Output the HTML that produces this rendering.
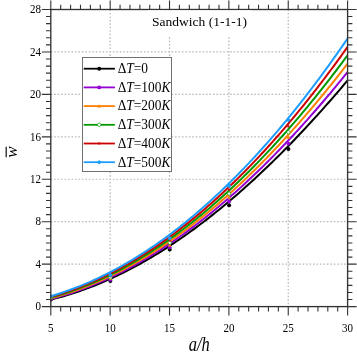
<!DOCTYPE html><html><head><meta charset="utf-8"><style>html,body{margin:0;padding:0;background:#fff}svg{display:block;will-change:transform}.ls,.ls text{font-family:"Liberation Serif",serif}</style></head><body><svg width="357" height="353" viewBox="0 0 357 353">
<rect width="357" height="353" fill="#fff"/>
<path d="M110.16 9.5V306.6M169.52 9.5V306.6M228.88 9.5V306.6M288.24 9.5V306.6M50.8 264.16H347.6M50.8 221.71H347.6M50.8 179.27H347.6M50.8 136.83H347.6M50.8 94.39H347.6M50.8 51.94H347.6" stroke="#b8b8b8" stroke-width="1.2" stroke-dasharray="1.6 1.85" fill="none"/>
<clipPath id="cp"><rect x="50.0" y="9.5" width="298.40000000000003" height="297.1"/></clipPath>
<g clip-path="url(#cp)">
<path d="M50.80 299.58 L53.17 299.00 L55.55 298.39 L57.92 297.76 L60.30 297.12 L62.67 296.45 L65.05 295.76 L67.42 295.06 L69.80 294.33 L72.17 293.58 L74.54 292.81 L76.92 292.02 L79.29 291.21 L81.67 290.39 L84.04 289.54 L86.42 288.67 L88.79 287.78 L91.16 286.87 L93.54 285.95 L95.91 285.00 L98.29 284.03 L100.66 283.04 L103.04 282.04 L105.41 281.01 L107.79 279.96 L110.16 278.90 L112.53 277.81 L114.91 276.71 L117.28 275.58 L119.66 274.44 L122.03 273.28 L124.41 272.09 L126.78 270.89 L129.16 269.67 L131.53 268.43 L133.90 267.17 L136.28 265.89 L138.65 264.60 L141.03 263.28 L143.40 261.94 L145.78 260.59 L148.15 259.22 L150.52 257.82 L152.90 256.41 L155.27 254.98 L157.65 253.53 L160.02 252.07 L162.40 250.58 L164.77 249.08 L167.15 247.55 L169.52 246.01 L171.89 244.45 L174.27 242.87 L176.64 241.27 L179.02 239.66 L181.39 238.02 L183.77 236.37 L186.14 234.70 L188.52 233.01 L190.89 231.30 L193.26 229.58 L195.64 227.83 L198.01 226.07 L200.39 224.29 L202.76 222.50 L205.14 220.68 L207.51 218.85 L209.88 217.00 L212.26 215.13 L214.63 213.24 L217.01 211.33 L219.38 209.41 L221.76 207.47 L224.13 205.51 L226.51 203.54 L228.88 201.55 L231.25 199.54 L233.63 197.51 L236.00 195.46 L238.38 193.40 L240.75 191.32 L243.13 189.22 L245.50 187.11 L247.88 184.97 L250.25 182.83 L252.62 180.66 L255.00 178.48 L257.37 176.27 L259.75 174.06 L262.12 171.82 L264.50 169.57 L266.87 167.30 L269.24 165.02 L271.62 162.72 L273.99 160.40 L276.37 158.06 L278.74 155.71 L281.12 153.34 L283.49 150.95 L285.87 148.55 L288.24 146.13 L290.61 143.70 L292.99 141.24 L295.36 138.78 L297.74 136.29 L300.11 133.79 L302.49 131.27 L304.86 128.74 L307.24 126.19 L309.61 123.62 L311.98 121.04 L314.36 118.44 L316.73 115.83 L319.11 113.20 L321.48 110.55 L323.86 107.89 L326.23 105.21 L328.60 102.51 L330.98 99.80 L333.35 97.08 L335.73 94.34 L338.10 91.58 L340.48 88.81 L342.85 86.02 L345.23 83.21 L347.60 80.39" stroke="#000000" stroke-width="2" fill="none" stroke-linejoin="round"/>
<circle cx="51.0" cy="299.6" r="2.00" fill="#000000"/>
<circle cx="110.4" cy="280.9" r="2.00" fill="#000000"/>
<circle cx="169.7" cy="249.6" r="2.00" fill="#000000"/>
<circle cx="229.1" cy="205.3" r="2.00" fill="#000000"/>
<circle cx="288.4" cy="149.0" r="2.00" fill="#000000"/>
<path d="M50.80 298.90 L53.17 298.29 L55.55 297.66 L57.92 297.01 L60.30 296.34 L62.67 295.65 L65.05 294.93 L67.42 294.20 L69.80 293.45 L72.17 292.68 L74.54 291.88 L76.92 291.07 L79.29 290.23 L81.67 289.38 L84.04 288.51 L86.42 287.61 L88.79 286.70 L91.16 285.76 L93.54 284.80 L95.91 283.83 L98.29 282.83 L100.66 281.82 L103.04 280.78 L105.41 279.73 L107.79 278.65 L110.16 277.55 L112.53 276.44 L114.91 275.30 L117.28 274.15 L119.66 272.97 L122.03 271.78 L124.41 270.56 L126.78 269.33 L129.16 268.07 L131.53 266.80 L133.90 265.50 L136.28 264.19 L138.65 262.86 L141.03 261.50 L143.40 260.13 L145.78 258.74 L148.15 257.33 L150.52 255.90 L152.90 254.45 L155.27 252.98 L157.65 251.49 L160.02 249.98 L162.40 248.45 L164.77 246.90 L167.15 245.34 L169.52 243.75 L171.89 242.15 L174.27 240.52 L176.64 238.88 L179.02 237.22 L181.39 235.54 L183.77 233.84 L186.14 232.12 L188.52 230.38 L190.89 228.62 L193.26 226.84 L195.64 225.05 L198.01 223.23 L200.39 221.40 L202.76 219.55 L205.14 217.67 L207.51 215.78 L209.88 213.88 L212.26 211.95 L214.63 210.00 L217.01 208.04 L219.38 206.05 L221.76 204.05 L224.13 202.03 L226.51 199.99 L228.88 197.93 L231.25 195.86 L233.63 193.76 L236.00 191.65 L238.38 189.52 L240.75 187.37 L243.13 185.20 L245.50 183.01 L247.88 180.80 L250.25 178.58 L252.62 176.34 L255.00 174.08 L257.37 171.80 L259.75 169.50 L262.12 167.19 L264.50 164.86 L266.87 162.51 L269.24 160.14 L271.62 157.75 L273.99 155.34 L276.37 152.92 L278.74 150.48 L281.12 148.02 L283.49 145.54 L285.87 143.05 L288.24 140.54 L290.61 138.01 L292.99 135.46 L295.36 132.89 L297.74 130.31 L300.11 127.71 L302.49 125.09 L304.86 122.45 L307.24 119.80 L309.61 117.13 L311.98 114.44 L314.36 111.73 L316.73 109.00 L319.11 106.26 L321.48 103.50 L323.86 100.73 L326.23 97.93 L328.60 95.12 L330.98 92.29 L333.35 89.45 L335.73 86.58 L338.10 83.70 L340.48 80.80 L342.85 77.89 L345.23 74.96 L347.60 72.01" stroke="#9400d3" stroke-width="2" fill="none" stroke-linejoin="round"/>
<circle cx="51.0" cy="298.9" r="1.90" fill="#9400d3"/>
<circle cx="110.4" cy="279.8" r="1.90" fill="#9400d3"/>
<circle cx="169.7" cy="247.3" r="1.90" fill="#9400d3"/>
<circle cx="229.1" cy="201.4" r="1.90" fill="#9400d3"/>
<circle cx="288.4" cy="143.6" r="1.90" fill="#9400d3"/>
<path d="M50.80 298.21 L53.17 297.58 L55.55 296.93 L57.92 296.25 L60.30 295.56 L62.67 294.84 L65.05 294.11 L67.42 293.35 L69.80 292.57 L72.17 291.77 L74.54 290.95 L76.92 290.12 L79.29 289.26 L81.67 288.37 L84.04 287.47 L86.42 286.55 L88.79 285.61 L91.16 284.65 L93.54 283.66 L95.91 282.66 L98.29 281.64 L100.66 280.59 L103.04 279.53 L105.41 278.44 L107.79 277.34 L110.16 276.21 L112.53 275.07 L114.91 273.90 L117.28 272.71 L119.66 271.50 L122.03 270.28 L124.41 269.03 L126.78 267.76 L129.16 266.47 L131.53 265.17 L133.90 263.84 L136.28 262.49 L138.65 261.12 L141.03 259.73 L143.40 258.32 L145.78 256.89 L148.15 255.44 L150.52 253.97 L152.90 252.48 L155.27 250.97 L157.65 249.44 L160.02 247.89 L162.40 246.32 L164.77 244.73 L167.15 243.12 L169.52 241.50 L171.89 239.85 L174.27 238.18 L176.64 236.49 L179.02 234.78 L181.39 233.05 L183.77 231.30 L186.14 229.53 L188.52 227.74 L190.89 225.93 L193.26 224.11 L195.64 222.26 L198.01 220.39 L200.39 218.50 L202.76 216.60 L205.14 214.67 L207.51 212.72 L209.88 210.76 L212.26 208.77 L214.63 206.76 L217.01 204.74 L219.38 202.69 L221.76 200.63 L224.13 198.55 L226.51 196.44 L228.88 194.32 L231.25 192.18 L233.63 190.02 L236.00 187.83 L238.38 185.63 L240.75 183.41 L243.13 181.17 L245.50 178.91 L247.88 176.63 L250.25 174.34 L252.62 172.02 L255.00 169.68 L257.37 167.33 L259.75 164.95 L262.12 162.56 L264.50 160.14 L266.87 157.71 L269.24 155.26 L271.62 152.78 L273.99 150.29 L276.37 147.78 L278.74 145.25 L281.12 142.70 L283.49 140.14 L285.87 137.55 L288.24 134.94 L290.61 132.32 L292.99 129.67 L295.36 127.01 L297.74 124.33 L300.11 121.63 L302.49 118.90 L304.86 116.16 L307.24 113.41 L309.61 110.63 L311.98 107.83 L314.36 105.02 L316.73 102.18 L319.11 99.33 L321.48 96.46 L323.86 93.57 L326.23 90.66 L328.60 87.73 L330.98 84.78 L333.35 81.81 L335.73 78.83 L338.10 75.82 L340.48 72.80 L342.85 69.76 L345.23 66.70 L347.60 63.62" stroke="#ff8000" stroke-width="2" fill="none" stroke-linejoin="round"/>
<path d="M51.0 296.3l1.9 3.2h-3.8z" fill="#ff8000"/>
<path d="M110.4 276.7l1.9 3.2h-3.8z" fill="#ff8000"/>
<path d="M169.7 243.2l1.9 3.2h-3.8z" fill="#ff8000"/>
<path d="M229.1 195.6l1.9 3.2h-3.8z" fill="#ff8000"/>
<path d="M288.4 135.5l1.9 3.2h-3.8z" fill="#ff8000"/>
<path d="M50.80 297.53 L53.17 296.87 L55.55 296.20 L57.92 295.50 L60.30 294.78 L62.67 294.04 L65.05 293.28 L67.42 292.50 L69.80 291.69 L72.17 290.87 L74.54 290.03 L76.92 289.16 L79.29 288.28 L81.67 287.37 L84.04 286.44 L86.42 285.49 L88.79 284.52 L91.16 283.53 L93.54 282.52 L95.91 281.49 L98.29 280.44 L100.66 279.37 L103.04 278.27 L105.41 277.16 L107.79 276.03 L110.16 274.87 L112.53 273.69 L114.91 272.50 L117.28 271.28 L119.66 270.04 L122.03 268.78 L124.41 267.50 L126.78 266.20 L129.16 264.88 L131.53 263.53 L133.90 262.17 L136.28 260.79 L138.65 259.38 L141.03 257.96 L143.40 256.51 L145.78 255.04 L148.15 253.56 L150.52 252.05 L152.90 250.52 L155.27 248.97 L157.65 247.40 L160.02 245.81 L162.40 244.20 L164.77 242.56 L167.15 240.91 L169.52 239.24 L171.89 237.54 L174.27 235.83 L176.64 234.09 L179.02 232.34 L181.39 230.56 L183.77 228.76 L186.14 226.95 L188.52 225.11 L190.89 223.25 L193.26 221.37 L195.64 219.47 L198.01 217.55 L200.39 215.61 L202.76 213.65 L205.14 211.66 L207.51 209.66 L209.88 207.64 L212.26 205.59 L214.63 203.53 L217.01 201.44 L219.38 199.34 L221.76 197.21 L224.13 195.06 L226.51 192.90 L228.88 190.71 L231.25 188.50 L233.63 186.27 L236.00 184.02 L238.38 181.75 L240.75 179.46 L243.13 177.15 L245.50 174.82 L247.88 172.46 L250.25 170.09 L252.62 167.70 L255.00 165.29 L257.37 162.85 L259.75 160.40 L262.12 157.92 L264.50 155.43 L266.87 152.91 L269.24 150.37 L271.62 147.82 L273.99 145.24 L276.37 142.64 L278.74 140.02 L281.12 137.39 L283.49 134.73 L285.87 132.05 L288.24 129.35 L290.61 126.63 L292.99 123.89 L295.36 121.13 L297.74 118.34 L300.11 115.54 L302.49 112.72 L304.86 109.88 L307.24 107.02 L309.61 104.13 L311.98 101.23 L314.36 98.30 L316.73 95.36 L319.11 92.39 L321.48 89.41 L323.86 86.40 L326.23 83.38 L328.60 80.33 L330.98 77.27 L333.35 74.18 L335.73 71.07 L338.10 67.94 L340.48 64.80 L342.85 61.63 L345.23 58.44 L347.60 55.23" stroke="#009a00" stroke-width="2" fill="none" stroke-linejoin="round"/>
<circle cx="51.0" cy="297.6" r="1.70" fill="#fff" stroke="#009a00" stroke-width="0.7"/>
<circle cx="110.4" cy="277.4" r="1.70" fill="#fff" stroke="#009a00" stroke-width="0.7"/>
<circle cx="169.7" cy="242.8" r="1.70" fill="#fff" stroke="#009a00" stroke-width="0.7"/>
<circle cx="229.1" cy="193.6" r="1.70" fill="#fff" stroke="#009a00" stroke-width="0.7"/>
<circle cx="288.4" cy="132.2" r="1.70" fill="#fff" stroke="#009a00" stroke-width="0.7"/>
<path d="M50.80 296.84 L53.17 296.16 L55.55 295.46 L57.92 294.74 L60.30 294.00 L62.67 293.23 L65.05 292.45 L67.42 291.64 L69.80 290.82 L72.17 289.97 L74.54 289.10 L76.92 288.21 L79.29 287.30 L81.67 286.36 L84.04 285.41 L86.42 284.43 L88.79 283.44 L91.16 282.42 L93.54 281.38 L95.91 280.33 L98.29 279.24 L100.66 278.14 L103.04 277.02 L105.41 275.88 L107.79 274.71 L110.16 273.53 L112.53 272.32 L114.91 271.09 L117.28 269.84 L119.66 268.57 L122.03 267.28 L124.41 265.97 L126.78 264.63 L129.16 263.28 L131.53 261.90 L133.90 260.50 L136.28 259.08 L138.65 257.64 L141.03 256.18 L143.40 254.70 L145.78 253.19 L148.15 251.67 L150.52 250.12 L152.90 248.55 L155.27 246.96 L157.65 245.35 L160.02 243.72 L162.40 242.07 L164.77 240.39 L167.15 238.70 L169.52 236.98 L171.89 235.24 L174.27 233.48 L176.64 231.70 L179.02 229.90 L181.39 228.07 L183.77 226.23 L186.14 224.36 L188.52 222.47 L190.89 220.56 L193.26 218.63 L195.64 216.68 L198.01 214.71 L200.39 212.71 L202.76 210.70 L205.14 208.66 L207.51 206.60 L209.88 204.52 L212.26 202.41 L214.63 200.29 L217.01 198.14 L219.38 195.98 L221.76 193.79 L224.13 191.58 L226.51 189.35 L228.88 187.09 L231.25 184.82 L233.63 182.52 L236.00 180.21 L238.38 177.87 L240.75 175.51 L243.13 173.12 L245.50 170.72 L247.88 168.29 L250.25 165.85 L252.62 163.38 L255.00 160.89 L257.37 158.38 L259.75 155.84 L262.12 153.29 L264.50 150.71 L266.87 148.11 L269.24 145.49 L271.62 142.85 L273.99 140.19 L276.37 137.50 L278.74 134.80 L281.12 132.07 L283.49 129.32 L285.87 126.55 L288.24 123.75 L290.61 120.94 L292.99 118.10 L295.36 115.24 L297.74 112.36 L300.11 109.46 L302.49 106.54 L304.86 103.59 L307.24 100.62 L309.61 97.63 L311.98 94.62 L314.36 91.59 L316.73 88.54 L319.11 85.46 L321.48 82.36 L323.86 79.24 L326.23 76.10 L328.60 72.94 L330.98 69.75 L333.35 66.55 L335.73 63.32 L338.10 60.07 L340.48 56.79 L342.85 53.50 L345.23 50.18 L347.60 46.84" stroke="#cc0000" stroke-width="2" fill="none" stroke-linejoin="round"/>
<rect x="50.0" y="295.9" width="2" height="2" fill="#cc0000"/>
<rect x="109.4" y="275.3" width="2" height="2" fill="#cc0000"/>
<rect x="168.7" y="239.5" width="2" height="2" fill="#cc0000"/>
<rect x="228.1" y="188.7" width="2" height="2" fill="#cc0000"/>
<rect x="287.4" y="125.3" width="2" height="2" fill="#cc0000"/>
<path d="M50.80 296.16 L53.17 295.46 L55.55 294.73 L57.92 293.99 L60.30 293.22 L62.67 292.43 L65.05 291.62 L67.42 290.79 L69.80 289.94 L72.17 289.06 L74.54 288.17 L76.92 287.25 L79.29 286.32 L81.67 285.36 L84.04 284.38 L86.42 283.38 L88.79 282.35 L91.16 281.31 L93.54 280.24 L95.91 279.16 L98.29 278.05 L100.66 276.92 L103.04 275.77 L105.41 274.59 L107.79 273.40 L110.16 272.18 L112.53 270.95 L114.91 269.69 L117.28 268.41 L119.66 267.10 L122.03 265.78 L124.41 264.43 L126.78 263.07 L129.16 261.68 L131.53 260.27 L133.90 258.83 L136.28 257.38 L138.65 255.90 L141.03 254.41 L143.40 252.89 L145.78 251.34 L148.15 249.78 L150.52 248.20 L152.90 246.59 L155.27 244.96 L157.65 243.31 L160.02 241.64 L162.40 239.94 L164.77 238.22 L167.15 236.48 L169.52 234.72 L171.89 232.94 L174.27 231.14 L176.64 229.31 L179.02 227.46 L181.39 225.59 L183.77 223.69 L186.14 221.78 L188.52 219.84 L190.89 217.88 L193.26 215.90 L195.64 213.89 L198.01 211.87 L200.39 209.82 L202.76 207.74 L205.14 205.65 L207.51 203.53 L209.88 201.40 L212.26 199.24 L214.63 197.05 L217.01 194.85 L219.38 192.62 L221.76 190.37 L224.13 188.09 L226.51 185.80 L228.88 183.48 L231.25 181.14 L233.63 178.78 L236.00 176.39 L238.38 173.98 L240.75 171.55 L243.13 169.10 L245.50 166.62 L247.88 164.12 L250.25 161.60 L252.62 159.06 L255.00 156.49 L257.37 153.90 L259.75 151.29 L262.12 148.65 L264.50 146.00 L266.87 143.32 L269.24 140.61 L271.62 137.89 L273.99 135.14 L276.37 132.36 L278.74 129.57 L281.12 126.75 L283.49 123.91 L285.87 121.05 L288.24 118.16 L290.61 115.25 L292.99 112.32 L295.36 109.36 L297.74 106.38 L300.11 103.38 L302.49 100.35 L304.86 97.30 L307.24 94.23 L309.61 91.14 L311.98 88.02 L314.36 84.88 L316.73 81.71 L319.11 78.53 L321.48 75.32 L323.86 72.08 L326.23 68.82 L328.60 65.54 L330.98 62.24 L333.35 58.91 L335.73 55.56 L338.10 52.19 L340.48 48.79 L342.85 45.37 L345.23 41.93 L347.60 38.46" stroke="#1c9dff" stroke-width="2" fill="none" stroke-linejoin="round"/>
<path d="M51.0 293.9l2.3 2.3l-2.3 2.3l-2.3 -2.3z" fill="#1c9dff"/>
<path d="M110.4 272.8l2.3 2.3l-2.3 2.3l-2.3 -2.3z" fill="#1c9dff"/>
<path d="M169.7 236.0l2.3 2.3l-2.3 2.3l-2.3 -2.3z" fill="#1c9dff"/>
<path d="M229.1 183.6l2.3 2.3l-2.3 2.3l-2.3 -2.3z" fill="#1c9dff"/>
<path d="M288.4 117.6l2.3 2.3l-2.3 2.3l-2.3 -2.3z" fill="#1c9dff"/>
</g>
<path d="M50.80 306.6v9M50.80 9.5v-9M60.69 306.6v4.8M60.69 9.5v-4.8M70.59 306.6v4.8M70.59 9.5v-4.8M80.48 306.6v4.8M80.48 9.5v-4.8M90.37 306.6v4.8M90.37 9.5v-4.8M100.27 306.6v4.8M100.27 9.5v-4.8M110.16 306.6v9M110.16 9.5v-9M120.05 306.6v4.8M120.05 9.5v-4.8M129.95 306.6v4.8M129.95 9.5v-4.8M139.84 306.6v4.8M139.84 9.5v-4.8M149.73 306.6v4.8M149.73 9.5v-4.8M159.63 306.6v4.8M159.63 9.5v-4.8M169.52 306.6v9M169.52 9.5v-9M179.41 306.6v4.8M179.41 9.5v-4.8M189.31 306.6v4.8M189.31 9.5v-4.8M199.20 306.6v4.8M199.20 9.5v-4.8M209.09 306.6v4.8M209.09 9.5v-4.8M218.99 306.6v4.8M218.99 9.5v-4.8M228.88 306.6v9M228.88 9.5v-9M238.77 306.6v4.8M238.77 9.5v-4.8M248.67 306.6v4.8M248.67 9.5v-4.8M258.56 306.6v4.8M258.56 9.5v-4.8M268.45 306.6v4.8M268.45 9.5v-4.8M278.35 306.6v4.8M278.35 9.5v-4.8M288.24 306.6v9M288.24 9.5v-9M298.13 306.6v4.8M298.13 9.5v-4.8M308.03 306.6v4.8M308.03 9.5v-4.8M317.92 306.6v4.8M317.92 9.5v-4.8M327.81 306.6v4.8M327.81 9.5v-4.8M337.71 306.6v4.8M337.71 9.5v-4.8M347.60 306.6v9M347.60 9.5v-9M50.8 306.60h-9M347.6 306.60h9M50.8 299.53h-4.8M347.6 299.53h4.8M50.8 292.45h-4.8M347.6 292.45h4.8M50.8 285.38h-4.8M347.6 285.38h4.8M50.8 278.30h-4.8M347.6 278.30h4.8M50.8 271.23h-4.8M347.6 271.23h4.8M50.8 264.16h-9M347.6 264.16h9M50.8 257.08h-4.8M347.6 257.08h4.8M50.8 250.01h-4.8M347.6 250.01h4.8M50.8 242.94h-4.8M347.6 242.94h4.8M50.8 235.86h-4.8M347.6 235.86h4.8M50.8 228.79h-4.8M347.6 228.79h4.8M50.8 221.71h-9M347.6 221.71h9M50.8 214.64h-4.8M347.6 214.64h4.8M50.8 207.57h-4.8M347.6 207.57h4.8M50.8 200.49h-4.8M347.6 200.49h4.8M50.8 193.42h-4.8M347.6 193.42h4.8M50.8 186.35h-4.8M347.6 186.35h4.8M50.8 179.27h-9M347.6 179.27h9M50.8 172.20h-4.8M347.6 172.20h4.8M50.8 165.12h-4.8M347.6 165.12h4.8M50.8 158.05h-4.8M347.6 158.05h4.8M50.8 150.98h-4.8M347.6 150.98h4.8M50.8 143.90h-4.8M347.6 143.90h4.8M50.8 136.83h-9M347.6 136.83h9M50.8 129.75h-4.8M347.6 129.75h4.8M50.8 122.68h-4.8M347.6 122.68h4.8M50.8 115.61h-4.8M347.6 115.61h4.8M50.8 108.53h-4.8M347.6 108.53h4.8M50.8 101.46h-4.8M347.6 101.46h4.8M50.8 94.39h-9M347.6 94.39h9M50.8 87.31h-4.8M347.6 87.31h4.8M50.8 80.24h-4.8M347.6 80.24h4.8M50.8 73.16h-4.8M347.6 73.16h4.8M50.8 66.09h-4.8M347.6 66.09h4.8M50.8 59.02h-4.8M347.6 59.02h4.8M50.8 51.94h-9M347.6 51.94h9M50.8 44.87h-4.8M347.6 44.87h4.8M50.8 37.80h-4.8M347.6 37.80h4.8M50.8 30.72h-4.8M347.6 30.72h4.8M50.8 23.65h-4.8M347.6 23.65h4.8M50.8 16.57h-4.8M347.6 16.57h4.8M50.8 9.50h-9M347.6 9.50h9" stroke="#333" stroke-width="1.1" fill="none"/>
<rect x="50.8" y="9.5" width="296.8" height="297.1" fill="none" stroke="#333" stroke-width="1.35"/>
<g class="ls" font-size="12" fill="#000">
<text x="50.8" y="332.3" text-anchor="middle" textLength="5.5" lengthAdjust="spacingAndGlyphs">5</text>
<text x="110.2" y="332.3" text-anchor="middle" textLength="11.0" lengthAdjust="spacingAndGlyphs">10</text>
<text x="169.5" y="332.3" text-anchor="middle" textLength="11.0" lengthAdjust="spacingAndGlyphs">15</text>
<text x="228.9" y="332.3" text-anchor="middle" textLength="11.0" lengthAdjust="spacingAndGlyphs">20</text>
<text x="288.2" y="332.3" text-anchor="middle" textLength="11.0" lengthAdjust="spacingAndGlyphs">25</text>
<text x="347.6" y="332.3" text-anchor="middle" textLength="11.0" lengthAdjust="spacingAndGlyphs">30</text>
<text x="41" y="310.3" text-anchor="end" textLength="5.5" lengthAdjust="spacingAndGlyphs">0</text>
<text x="41" y="267.9" text-anchor="end" textLength="5.5" lengthAdjust="spacingAndGlyphs">4</text>
<text x="41" y="225.4" text-anchor="end" textLength="5.5" lengthAdjust="spacingAndGlyphs">8</text>
<text x="41" y="183.0" text-anchor="end" textLength="11.0" lengthAdjust="spacingAndGlyphs">12</text>
<text x="41" y="140.5" text-anchor="end" textLength="11.0" lengthAdjust="spacingAndGlyphs">16</text>
<text x="41" y="98.1" text-anchor="end" textLength="11.0" lengthAdjust="spacingAndGlyphs">20</text>
<text x="41" y="55.6" text-anchor="end" textLength="11.0" lengthAdjust="spacingAndGlyphs">24</text>
<text x="41" y="13.2" text-anchor="end" textLength="11.0" lengthAdjust="spacingAndGlyphs">28</text>
</g>
<rect x="148" y="10.4" width="104" height="26.3" fill="#fff"/>
<text class="ls" x="199.5" y="26" text-anchor="middle" font-size="13.5" fill="#000">Sandwich (1-1-1)</text>
<text class="ls" x="199.3" y="350.5" text-anchor="middle" font-style="italic" font-size="21.8" fill="#000" textLength="21" lengthAdjust="spacingAndGlyphs">a/h</text>
<g transform="translate(17,152) rotate(-90)"><text class="ls" x="0" y="0" text-anchor="middle" font-style="italic" font-size="17" fill="#000">w</text><path d="M-5.3 -10.8H5.3" stroke="#111" stroke-width="1.2"/></g>
<rect x="82.5" y="57.5" width="89" height="114" fill="#fff" stroke="#707070" stroke-width="1"/>
<path d="M83.7 68.7H114.9" stroke="#000000" stroke-width="1.8"/>
<circle cx="99.2" cy="68.7" r="2.00" fill="#000000"/>
<text class="ls" x="117.7" y="73.0" font-size="14.2" fill="#000" textLength="30.4" lengthAdjust="spacingAndGlyphs">Δ<tspan font-style="italic">T</tspan>=0</text>
<path d="M83.7 87.4H114.9" stroke="#9400d3" stroke-width="1.8"/>
<circle cx="99.2" cy="87.4" r="1.90" fill="#9400d3"/>
<text class="ls" x="117.7" y="91.7" font-size="14.2" fill="#000" textLength="52.7" lengthAdjust="spacingAndGlyphs">Δ<tspan font-style="italic">T</tspan>=100<tspan font-style="italic">K</tspan></text>
<path d="M83.7 106.1H114.9" stroke="#ff8000" stroke-width="1.8"/>
<path d="M99.2 104.2l1.9 3.2h-3.8z" fill="#ff8000"/>
<text class="ls" x="117.7" y="110.4" font-size="14.2" fill="#000" textLength="52.7" lengthAdjust="spacingAndGlyphs">Δ<tspan font-style="italic">T</tspan>=200<tspan font-style="italic">K</tspan></text>
<path d="M83.7 124.8H114.9" stroke="#009a00" stroke-width="1.8"/>
<circle cx="99.2" cy="124.8" r="1.70" fill="#fff" stroke="#009a00" stroke-width="0.7"/>
<text class="ls" x="117.7" y="129.1" font-size="14.2" fill="#000" textLength="52.7" lengthAdjust="spacingAndGlyphs">Δ<tspan font-style="italic">T</tspan>=300<tspan font-style="italic">K</tspan></text>
<path d="M83.7 143.5H114.9" stroke="#cc0000" stroke-width="1.8"/>
<rect x="98.2" y="142.5" width="2" height="2" fill="#cc0000"/>
<text class="ls" x="117.7" y="147.8" font-size="14.2" fill="#000" textLength="52.7" lengthAdjust="spacingAndGlyphs">Δ<tspan font-style="italic">T</tspan>=400<tspan font-style="italic">K</tspan></text>
<path d="M83.7 162.2H114.9" stroke="#1c9dff" stroke-width="1.8"/>
<path d="M99.2 159.9l2.3 2.3l-2.3 2.3l-2.3 -2.3z" fill="#1c9dff"/>
<text class="ls" x="117.7" y="166.5" font-size="14.2" fill="#000" textLength="52.7" lengthAdjust="spacingAndGlyphs">Δ<tspan font-style="italic">T</tspan>=500<tspan font-style="italic">K</tspan></text>
</svg></body></html>
